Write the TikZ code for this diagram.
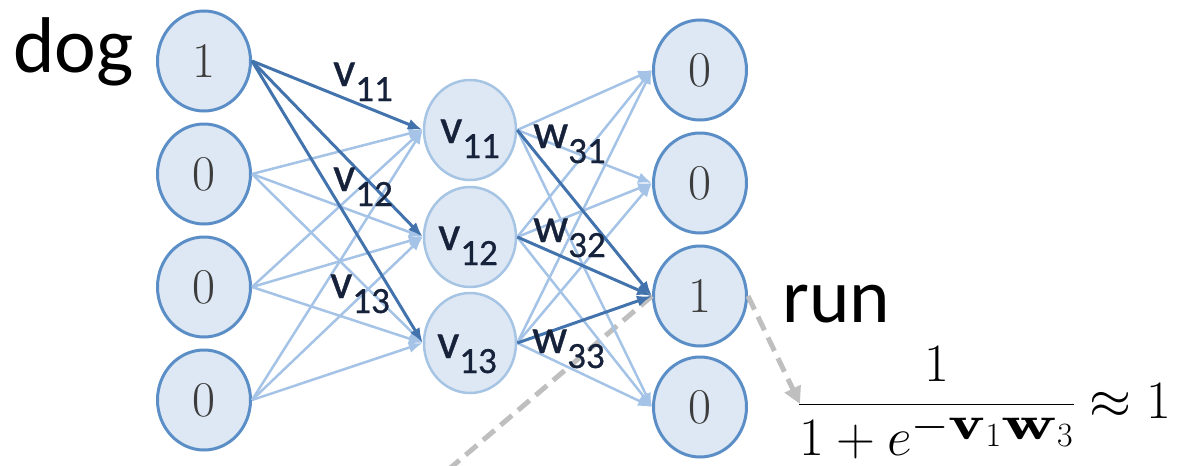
\RequirePackage{fix-cm}
\documentclass[tikz,border=0pt]{standalone}
\usepackage{amsmath}
\usepackage{graphicx}
\usepackage{fontspec}
\newfontfamily\calib{Carlito}
\newfontfamily\calibsb{Carlito}[FakeBold=0.7]
\usetikzlibrary{shapes.geometric,arrows.meta}
\DeclareMathSizes{54}{54}{48}{34}
\definecolor{nodefill}{HTML}{DEE8F4}
\definecolor{nodeborder}{HTML}{5B8EC6}
\definecolor{hidborder}{HTML}{A6C4E4}
\definecolor{lightedge}{HTML}{A4C3E6}
\definecolor{darkedge}{HTML}{4373AD}
\definecolor{labcol}{HTML}{16213A}
\definecolor{dashgray}{HTML}{BFBFBF}
\definecolor{digitgray}{HTML}{3C3C3C}
\newcommand\wlab[2]{{\fontsize{49}{49}\selectfont #1}\raisebox{-15pt}{\fontsize{37}{37}\selectfont #2}}
\newcommand\digit[1]{\raisebox{-5pt}{\fontsize{50}{50}\selectfont #1}}
\newcommand\wideb[2]{\scalebox{#1}[1]{$\scriptstyle\mathbf{#2}$}}
\tikzset{
  unit/.style={ellipse, draw=nodeborder, line width=3pt, fill=nodefill, minimum width=93pt, minimum height=100pt, inner sep=0pt, text=digitgray},
  hid/.style={ellipse, draw=hidborder, line width=2.5pt, fill=nodefill, minimum width=92pt, minimum height=100pt, inner sep=0pt},
  lab/.style={anchor=base west, inner sep=0pt, text=labcol, font=\calibsb},
  word/.style={anchor=base west, inner sep=0pt, text=black, font=\calib\fontsize{79}{79}\selectfont},
  lightarr/.style={draw=lightedge, line width=2.5pt, -{Latex[length=14pt,width=11pt]}},
  darkarr/.style={draw=darkedge, line width=3pt, -{Latex[length=15pt,width=11pt]}},
  grayline/.style={draw=dashgray, line width=5pt, dash pattern=on 15pt off 8pt},
}
\begin{document}
\begin{tikzpicture}[x=1pt,y=-1pt]
\useasboundingbox (0,0) rectangle (1184,466);
% nodes
\node[unit] (i1) at (204,61) {\digit{1}};
\node[unit] (i2) at (204,174) {\digit{0}};
\node[unit] (i3) at (204,287) {\digit{0}};
\node[unit] (i4) at (204,400) {\digit{0}};
\node[hid] (h1) at (470,130) {};
\node[hid] (h2) at (470,237) {};
\node[hid] (h3) at (470,343) {};
\node[unit] (o1) at (700,70) {\digit{0}};
\node[unit] (o2) at (700,183) {\digit{0}};
\node[unit] (o3) at (700,296) {\digit{1}};
\node[unit] (o4) at (700,407) {\digit{0}};
% dashed gray lines
\coordinate (dashend) at (448,470);
\coordinate (fractip) at (800,404);
\draw[grayline] (o3.west) -- (dashend);
% light edges input -> hidden
\foreach \i in {2,3,4}{
  \foreach \h in {1,2,3}{
    \draw[lightarr] (i\i.east) -- (h\h.west);
  }
}
% light edges hidden -> output
\foreach \h in {1,2,3}{
  \foreach \o in {1,2,4}{
    \draw[lightarr] (h\h.east) -- (o\o.west);
  }
}
% dark edges
\foreach \h in {1,2,3}{
  \draw[darkarr] (i1.east) -- (h\h.west);
  \draw[darkarr] (h\h.east) -- (o3.west);
}
\draw[grayline, -{Triangle[length=17pt,width=17pt]}] (o3.east) -- (fractip);
% labels
\node[lab] (lv1) at (440,143) {\wlab{v}{11}};
\node[lab] (lv2) at (438,250) {\wlab{v}{12}};
\node[lab] (lv3) at (437,358) {\wlab{v}{13}};
\node[lab] (ev1) at (333,86) {\wlab{v}{11}};
\node[lab] (ev2) at (333,191) {\wlab{v}{12}};
\node[lab] (ev3) at (330,298) {\wlab{v}{13}};
\node[lab] (ew1) at (533,148) {\wlab{w}{31}};
\node[lab] (ew2) at (533,242) {\wlab{w}{32}};
\node[lab] (ew3) at (532,353) {\wlab{w}{33}};
\node[word] (dog) at (13,72) {dog};
\node[word, font=\calib\fontsize{77}{77}\selectfont] (run) at (782,322) {run};
\node[anchor=base west, inner sep=0pt] (frac) at (798,418) {\fontsize{54}{54}\selectfont $\dfrac{1}{1+e^{-\wideb{1.45}{v}_1\wideb{1.6}{w}_3}}\approx 1$};
\end{tikzpicture}
\end{document}
